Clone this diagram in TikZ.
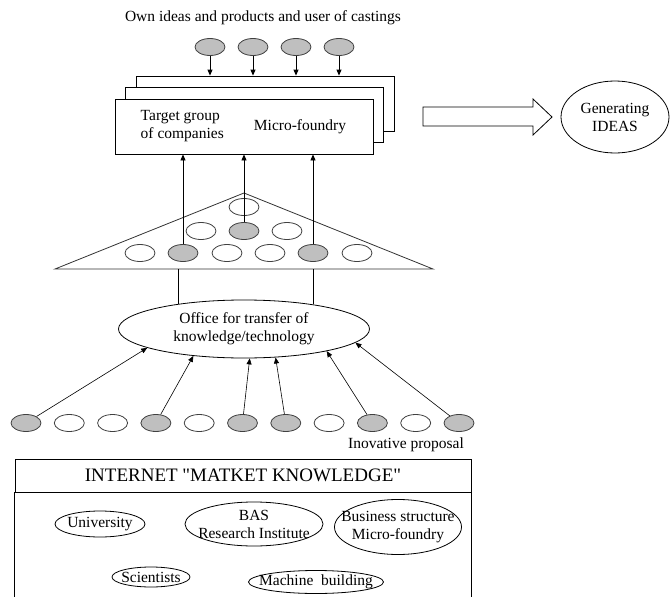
\documentclass[tikz,border=0pt]{standalone}
\usepackage{fontspec}
\setmainfont{Liberation Serif}
\newfontfamily\plainserif{Liberation Serif}
\usetikzlibrary{shapes.geometric,arrows.meta,positioning}
\tikzstyle{stackbox} = [draw=black, fill=white, rectangle, minimum width=258pt,
    minimum height=55pt, inner sep=0pt]
\tikzstyle{smalloval} = [draw=black!75, ellipse, minimum width=30pt,
    minimum height=17pt, inner sep=0pt]
\tikzstyle{graydot} = [smalloval, fill=black!25]
\tikzstyle{whitedot} = [smalloval, fill=white]
\tikzstyle{oval} = [draw=black, ellipse, inner sep=0pt, align=center]
\tikzstyle{arr} = [-{Triangle[length=6pt,width=5pt]}]

\begin{document}
\begin{tikzpicture}[x=1pt, y=-1pt, line width=0.8pt, font=\fontsize{15.5}{18}\selectfont]
    \useasboundingbox (0,0) rectangle (670,597);
    % own ideas on top
    \node (title) at (263,18) {Own ideas and products and user of castings};
    \foreach \i/\x in {1/210,2/253,3/296,4/339}
        \node[graydot] (own\i) at (\x,47) {};
    % stack of companies
    \node[stackbox] (box3) at (265,103.5) {};
    \node[stackbox] (box2) at (254.5,115) {};
    \node[stackbox] (box1) at (244,126.5) {};
    \node[align=left, anchor=west] (target) at (137,126.5) {Target group\\of companies};
    \node (micro) at (300,127) {Micro-foundry};
    \foreach \i in {1,...,4}
        \draw[arr] (own\i) -- (own\i |- box3.north);
    % output
    \draw (423,107) -- (533,107) -- (533,99) -- (552,117) -- (533,135) -- (533,126) -- (423,126) -- cycle;
    \node[oval, minimum width=108pt, minimum height=72pt] (ideas) at (615,117) {Generating\\IDEAS};
    % pyramid
    \coordinate (apex) at (244,193);
    \coordinate (tl) at (55,269);
    \coordinate (tr) at (433,269);
    \draw[draw=black!80] (tl) -- (apex) -- (tr) -- cycle;
    \node[whitedot] (t1) at (244,207) {};
    \foreach \i/\x/\s in {1/201/whitedot,2/244/graydot,3/287/whitedot}
        \node[\s] (m\i) at (\x,231) {};
    \foreach \i/\x/\s in {1/140/whitedot,2/183/graydot,3/227/whitedot,4/270/whitedot,5/313/graydot,6/357/whitedot}
        \node[\s] (b\i) at (\x,253) {};
    \draw[arr] (b2.north) -- (b2.north |- box1.south);
    \draw[arr] (m2.north) -- (m2.north |- box1.south);
    \draw[arr] (b5.north) -- (b5.north |- box1.south);
    % transfer office
    \node[oval, minimum width=251pt, minimum height=58pt] (office) at (244,329) {Office for transfer of\\knowledge/technology};
    \coordinate (foot1) at (178,269);
    \coordinate (foot2) at (313,269);
    \draw (foot1) -- (foot1 |- office.159);
    \draw (foot2) -- (foot2 |- office.21);
    % proposals
    \foreach \i/\s in {1/graydot,2/whitedot,3/whitedot,4/graydot,5/whitedot,6/graydot,7/graydot,8/whitedot,9/graydot,10/whitedot,11/graydot}
        \node[\s] (p\i) at ({26+43.3*(\i-1)},423) {};
    \foreach \i/\a in {1/191,4/208,6/281,7/318,9/345,11/353}
        \draw[arr, line width=0.6pt] (p\i) -- (office.\a);
    \node (proposal) at (406,445) {Inovative proposal};
    % market knowledge
    \node[draw, minimum width=456pt, minimum height=33pt, font=\plainserif\fontsize{19}{22}\selectfont] (market) at (243,475.5) {INTERNET "MATKET KNOWLEDGE"};
    \draw (market.south west) -- ++(0,105);
    \draw (market.south east) -- ++(0,105);
    \node[oval, minimum width=90pt, minimum height=26pt, label={center:University}] (univ) at (100,524) {};
    \node[oval, minimum width=138pt, minimum height=44pt, label={[align=center]center:BAS\\Research Institute}] (bas) at (254,524) {};
    \node[oval, minimum width=127pt, minimum height=55pt, label={[align=center]center:Business structure\\Micro-foundry}] (business) at (398,527) {};
    \node[oval, minimum width=78pt, minimum height=20pt, label={center:Scientists}] (sci) at (151,577) {};
    \node[oval, minimum width=135pt, minimum height=23pt, label={center:Machine\ \ building}] (machine) at (316,582) {};
\end{tikzpicture}
\end{document}
